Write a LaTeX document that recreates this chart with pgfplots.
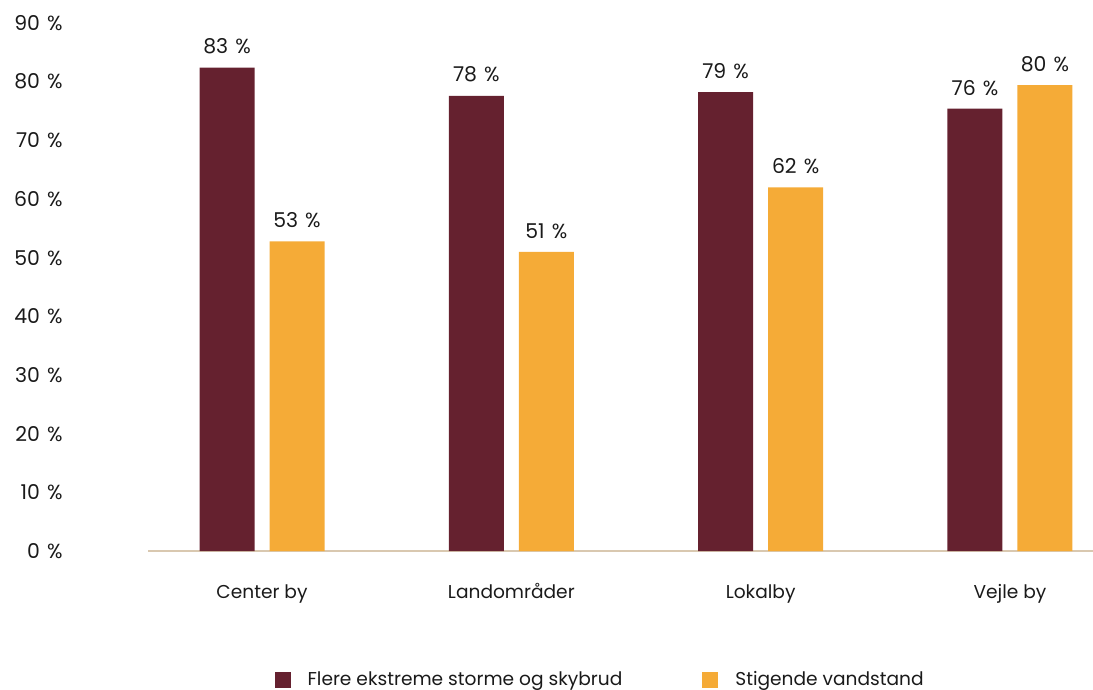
\documentclass[border=0pt]{standalone}
\usepackage{pgfplots}
\pgfplotsset{compat=1.18}
\usepackage{fontspec}
\setmainfont{Poppins}
\definecolor{maroon}{HTML}{65212F}
\definecolor{orng}{HTML}{F5AB37}
\definecolor{axtan}{HTML}{D9C8B0}
\definecolor{txt}{HTML}{1A1A1A}
\begin{document}
\begin{tikzpicture}[font=\fontsize{9.3bp}{11bp}\selectfont, text=txt]
\useasboundingbox (0,0) rectangle (546.5bp,345bp);
\begin{axis}[
  at={(74bp,69.5bp)}, anchor=south west,
  scale only axis, width=472.5bp, height=264bp,
  xmin=-0.4573, xmax=3.333, ymin=0, ymax=90,
  ybar=7.5bp, bar width=27.5bp,
  axis x line*=bottom, axis y line*=left,
  y axis line style={draw=none},
  x axis line style={draw=axtan, line width=1.2bp, -},
  xtick={0,1,2,3},
  xticklabels={Center by,Landområder,Lokalby,Vejle by},
  xticklabel style={anchor=base, inner sep=0pt, yshift=-23.5bp},
  ytick={0,10,...,90},
  yticklabel={\pgfmathprintnumber{\tick}\hspace{0.35em}\%},
  /pgf/number format/assume math mode=true,
  yticklabel style={anchor=east, inner sep=0pt, xshift=-42.5bp, font=\fontsize{10.2bp}{12bp}\selectfont},
  major tick length=0pt,
  tick style={draw=none},
  point meta=explicit symbolic,
  nodes near coords={\pgfplotspointmeta\hspace{0.35em}\%},
  nodes near coords style={anchor=south, inner sep=0pt, yshift=6.5bp, text=txt, font=\fontsize{10.2bp}{12bp}\selectfont},
  legend style={at={(0.4795,-0.244)}, anchor=center, draw=none, fill=none,
    legend columns=2, /tikz/every even column/.append style={column sep=38bp},
    font=\fontsize{9.3bp}{11bp}\selectfont},
  legend cell align=left,
  clip=false,
]
\addplot[draw=none, fill=maroon, legend image code/.code={\fill[maroon] (0bp,-4bp) rectangle (8bp,4bp);}]
  coordinates {(0,82.4) [83] (1,77.6) [78] (2,78.2) [79] (3,75.4) [76]};
\addplot[draw=none, fill=orng, legend image code/.code={\fill[orng] (0bp,-4bp) rectangle (8bp,4bp);}]
  coordinates {(0,52.8) [53] (1,51.0) [51] (2,62.0) [62] (3,79.4) [80]};
\legend{\hspace{6.5bp}Flere ekstreme storme og skybrud,\hspace{6.5bp}Stigende vandstand}
\end{axis}
\end{tikzpicture}
\end{document}
